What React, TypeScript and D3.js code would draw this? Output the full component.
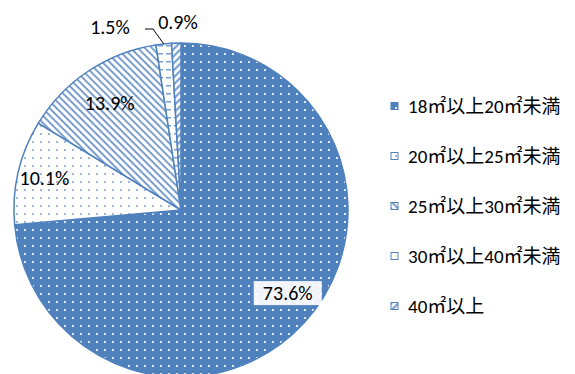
import React from "react";
import * as d3 from "d3";

const categories = ["18㎡以上20㎡未満", "20㎡以上25㎡未満", "25㎡以上30㎡未満", "30㎡以上40㎡未満", "40㎡以上"];
const values = [73.6, 10.1, 13.9, 1.5, 0.9];
const labels = ["73.6%", "10.1%", "13.9%", "1.5%", "0.9%"];

const BLUE = "#4f81bd";
const W = 575, H = 374;
const cx = 181, cy = 210, R = 167;

export default function App() {
  const pie = d3.pie<number>().sort(null).value((d) => d);
  const arcs = pie(values);
  const arc = d3.arc<d3.PieArcDatum<number>>().innerRadius(0).outerRadius(R);
  const fills = ["url(#p0)", "url(#p1)", "url(#p2)", "url(#p3)", "url(#p4)"];
  const labelR = [0.81, 0.84, 0.77, 1.15, 1.15];
  const font = "Carlito, Calibri, 'Noto Sans', 'Liberation Sans', sans-serif";
  const jpFont = "Carlito, Calibri, 'Noto Sans CJK JP', sans-serif";

  const pos = arcs.map((a, i) => {
    const mid = (a.startAngle + a.endAngle) / 2 - (i === 0 ? 0.08 : 0);
    const r = R * labelR[i];
    return [cx + r * Math.sin(mid), cy - r * Math.cos(mid)];
  });
  // small outer labels placed above the pie
  pos[3] = [cx - 71, 27];
  pos[4] = [cx - 3, 22];
  const leaderStart = [cx - 36, 29];
  const a3mid = (arcs[3].startAngle + arcs[3].endAngle) / 2;
  const leaderEnd = [cx + R * Math.sin(a3mid), cy - R * Math.cos(a3mid)];

  const legendY = d3.scalePoint<string>().domain(categories).range([106, 306]);

  return (
    <svg width={W} height={H} style={{ position: "absolute", left: 0, top: 0 }}>
      <defs>
        <pattern id="p0" width="8" height="8" patternUnits="userSpaceOnUse">
          <rect width="8" height="8" fill={BLUE} />
          <rect x="3" y="3" width="2" height="2" fill="#dfe8f3" />
        </pattern>
        <pattern id="p1" width="8" height="8" patternUnits="userSpaceOnUse">
          <rect width="8" height="8" fill="#fff" />
          <rect x="3" y="3" width="2" height="2" fill="#9db6d9" />
        </pattern>
        <pattern id="p2" width="5" height="5" patternUnits="userSpaceOnUse" patternTransform="rotate(45)">
          <rect width="5" height="5" fill="#fff" />
          <rect x="0" y="0" width="5" height="2" fill="#7b9fcf" />
        </pattern>
        <pattern id="p3" width="8" height="8" patternUnits="userSpaceOnUse">
          <rect width="8" height="8" fill="#fff" />
          <rect x="1" y="3" width="5" height="1.5" fill="#7b9fcf" />
        </pattern>
        <pattern id="p4" width="5" height="5" patternUnits="userSpaceOnUse" patternTransform="rotate(-45)">
          <rect width="5" height="5" fill="#fff" />
          <rect x="0" y="0" width="5" height="2.2" fill="#7b9fcf" />
        </pattern>
      </defs>
      <rect width={W} height={H} fill="#fff" />
      <g>
        {arcs.map((a, i) => (
          <path
            key={i}
            d={arc(a) || ""}
            transform={`translate(${cx},${cy})`}
            fill={fills[i]}
            stroke={BLUE}
            strokeWidth={1.5}
          />
        ))}
      </g>
      <polyline
        points={`${leaderStart[0]},${leaderStart[1]} ${leaderStart[0] + 8},${leaderStart[1]} ${leaderEnd[0]},${leaderEnd[1]}`}
        fill="none"
        stroke="#000"
        strokeWidth={1}
      />
      {labels.map((t, i) => (
        <g key={i}>
          {i === 0 && (
            <rect x={pos[i][0] - 34} y={pos[i][1] - 12} width={68} height={24} fill="#fff" opacity={0.92} />
          )}
          <text
            x={pos[i][0]}
            y={pos[i][1]}
            textAnchor="middle"
            dominantBaseline="central"
            fontFamily={font}
            fontSize={20}
            fill="#000"
          >
            {t}
          </text>
        </g>
      ))}
      {categories.map((c, i) => {
        const y = legendY(c)!;
        return (
          <g key={c}>
            <rect x={391} y={y - 3.5} width={7} height={7} fill={fills[i]} stroke={BLUE} strokeWidth={1} />
            <text x={408} y={y} dominantBaseline="central" fontFamily={jpFont} fontSize={19} fill="#000">
              {c}
            </text>
          </g>
        );
      })}
    </svg>
  );
}
